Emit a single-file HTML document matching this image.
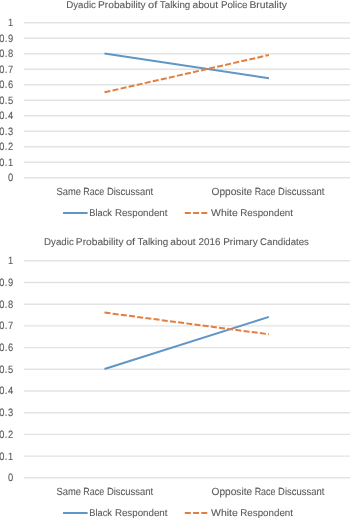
<!DOCTYPE html>
<html><head><meta charset="utf-8"><style>
html,body{margin:0;padding:0;background:#fff;width:350px;height:518px;overflow:hidden}
svg{display:block;will-change:transform}
text{font-family:"Liberation Sans",sans-serif;text-rendering:geometricPrecision;fill:#595959;stroke:#595959;stroke-width:0.08px}
</style></head><body>
<svg width="350" height="518" viewBox="0 0 350 518">
<rect width="350" height="518" fill="#fff"/>
<text x="66.20" y="7.60" textLength="29.76" lengthAdjust="spacingAndGlyphs" font-size="9.8">Dyadic</text>
<text x="98.06" y="7.60" textLength="47.66" lengthAdjust="spacingAndGlyphs" font-size="9.8">Probability</text>
<text x="148.13" y="7.60" textLength="9.25" lengthAdjust="spacingAndGlyphs" font-size="9.8">of</text>
<text x="159.78" y="7.60" textLength="30.55" lengthAdjust="spacingAndGlyphs" font-size="9.8">Talking</text>
<text x="192.47" y="7.60" textLength="25.61" lengthAdjust="spacingAndGlyphs" font-size="9.8">about</text>
<text x="220.90" y="7.60" textLength="26.64" lengthAdjust="spacingAndGlyphs" font-size="9.8">Police</text>
<text x="249.45" y="7.60" textLength="37.57" lengthAdjust="spacingAndGlyphs" font-size="9.8">Brutality</text>
<line x1="24" y1="177.80" x2="350" y2="177.80" stroke="#E3E3E3" stroke-width="1.4"/>
<line x1="24" y1="162.30" x2="350" y2="162.30" stroke="#E3E3E3" stroke-width="1.4"/>
<line x1="24" y1="146.80" x2="350" y2="146.80" stroke="#E3E3E3" stroke-width="1.4"/>
<line x1="24" y1="131.30" x2="350" y2="131.30" stroke="#E3E3E3" stroke-width="1.4"/>
<line x1="24" y1="115.80" x2="350" y2="115.80" stroke="#E3E3E3" stroke-width="1.4"/>
<line x1="24" y1="100.30" x2="350" y2="100.30" stroke="#E3E3E3" stroke-width="1.4"/>
<line x1="24" y1="84.80" x2="350" y2="84.80" stroke="#E3E3E3" stroke-width="1.4"/>
<line x1="24" y1="69.30" x2="350" y2="69.30" stroke="#E3E3E3" stroke-width="1.4"/>
<line x1="24" y1="53.80" x2="350" y2="53.80" stroke="#E3E3E3" stroke-width="1.4"/>
<line x1="24" y1="38.30" x2="350" y2="38.30" stroke="#E3E3E3" stroke-width="1.4"/>
<line x1="24" y1="22.80" x2="350" y2="22.80" stroke="#E3E3E3" stroke-width="1.4"/>
<text transform="scale(0.88,1)" x="9.06" y="181.20" font-size="10.6">0</text>
<text transform="scale(0.88,1)" x="-0.94 5.40 9.17" y="165.70" font-size="10.6">0.1</text>
<text transform="scale(0.88,1)" x="-0.94 5.40 9.18" y="150.20" font-size="10.6">0.2</text>
<text transform="scale(0.88,1)" x="-0.94 5.40 9.12" y="134.70" font-size="10.6">0.3</text>
<text transform="scale(0.88,1)" x="-0.94 5.40 8.96" y="119.20" font-size="10.6">0.4</text>
<text transform="scale(0.88,1)" x="-0.94 5.40 9.10" y="103.70" font-size="10.6">0.5</text>
<text transform="scale(0.88,1)" x="-0.94 5.40 9.12" y="88.20" font-size="10.6">0.6</text>
<text transform="scale(0.88,1)" x="-0.94 5.40 9.18" y="72.70" font-size="10.6">0.7</text>
<text transform="scale(0.88,1)" x="-0.94 5.40 9.11" y="57.20" font-size="10.6">0.8</text>
<text transform="scale(0.88,1)" x="-0.94 5.40 9.15" y="41.70" font-size="10.6">0.9</text>
<text transform="scale(0.88,1)" x="9.17" y="26.20" font-size="10.6">1</text>
<line x1="104.5" y1="53.50" x2="268.9" y2="78.30" stroke="#6096C6" stroke-width="2.0"/>
<line x1="104.5" y1="92.25" x2="268.9" y2="55.05" stroke="#E37F3E" stroke-width="2.0" stroke-dasharray="6 2.25"/>
<text x="56.47" y="195.00" textLength="24.54" lengthAdjust="spacingAndGlyphs" font-size="10.4">Same</text>
<text x="83.27" y="195.00" textLength="20.83" lengthAdjust="spacingAndGlyphs" font-size="10.4">Race</text>
<text x="106.92" y="195.00" textLength="46.25" lengthAdjust="spacingAndGlyphs" font-size="10.4">Discussant</text>
<text x="211.52" y="195.00" textLength="40.63" lengthAdjust="spacingAndGlyphs" font-size="10.4">Opposite</text>
<text x="254.67" y="195.00" textLength="20.83" lengthAdjust="spacingAndGlyphs" font-size="10.4">Race</text>
<text x="278.12" y="195.00" textLength="46.25" lengthAdjust="spacingAndGlyphs" font-size="10.4">Discussant</text>
<line x1="63" y1="213.0" x2="87.6" y2="213.0" stroke="#6096C6" stroke-width="2.0"/>
<text x="89.24" y="215.70" textLength="22.75" lengthAdjust="spacingAndGlyphs" font-size="9.8">Black</text>
<text x="114.90" y="215.70" textLength="52.57" lengthAdjust="spacingAndGlyphs" font-size="9.8">Respondent</text>
<line x1="184.8" y1="213.0" x2="207.4" y2="213.0" stroke="#E37F3E" stroke-width="2.0" stroke-dasharray="6 2.25"/>
<text x="211.05" y="215.70" textLength="26.81" lengthAdjust="spacingAndGlyphs" font-size="9.8">White</text>
<text x="240.30" y="215.70" textLength="52.67" lengthAdjust="spacingAndGlyphs" font-size="9.8">Respondent</text>
<text x="44.10" y="245.00" textLength="29.65" lengthAdjust="spacingAndGlyphs" font-size="9.8">Dyadic</text>
<text x="75.86" y="245.00" textLength="47.66" lengthAdjust="spacingAndGlyphs" font-size="9.8">Probability</text>
<text x="125.93" y="245.00" textLength="9.25" lengthAdjust="spacingAndGlyphs" font-size="9.8">of</text>
<text x="137.58" y="245.00" textLength="30.55" lengthAdjust="spacingAndGlyphs" font-size="9.8">Talking</text>
<text x="170.27" y="245.00" textLength="25.41" lengthAdjust="spacingAndGlyphs" font-size="9.8">about</text>
<text x="198.61" y="245.00" textLength="21.82" lengthAdjust="spacingAndGlyphs" font-size="9.8">2016</text>
<text x="223.18" y="245.00" textLength="34.54" lengthAdjust="spacingAndGlyphs" font-size="9.8">Primary</text>
<text x="260.11" y="245.00" textLength="48.84" lengthAdjust="spacingAndGlyphs" font-size="9.8">Candidates</text>
<line x1="24" y1="477.80" x2="350" y2="477.80" stroke="#E3E3E3" stroke-width="1.4"/>
<line x1="24" y1="456.10" x2="350" y2="456.10" stroke="#E3E3E3" stroke-width="1.4"/>
<line x1="24" y1="434.40" x2="350" y2="434.40" stroke="#E3E3E3" stroke-width="1.4"/>
<line x1="24" y1="412.70" x2="350" y2="412.70" stroke="#E3E3E3" stroke-width="1.4"/>
<line x1="24" y1="391.00" x2="350" y2="391.00" stroke="#E3E3E3" stroke-width="1.4"/>
<line x1="24" y1="369.30" x2="350" y2="369.30" stroke="#E3E3E3" stroke-width="1.4"/>
<line x1="24" y1="347.60" x2="350" y2="347.60" stroke="#E3E3E3" stroke-width="1.4"/>
<line x1="24" y1="325.90" x2="350" y2="325.90" stroke="#E3E3E3" stroke-width="1.4"/>
<line x1="24" y1="304.20" x2="350" y2="304.20" stroke="#E3E3E3" stroke-width="1.4"/>
<line x1="24" y1="282.50" x2="350" y2="282.50" stroke="#E3E3E3" stroke-width="1.4"/>
<line x1="24" y1="260.80" x2="350" y2="260.80" stroke="#E3E3E3" stroke-width="1.4"/>
<text transform="scale(0.88,1)" x="9.06" y="481.20" font-size="10.6">0</text>
<text transform="scale(0.88,1)" x="-0.94 5.40 9.17" y="459.50" font-size="10.6">0.1</text>
<text transform="scale(0.88,1)" x="-0.94 5.40 9.18" y="437.80" font-size="10.6">0.2</text>
<text transform="scale(0.88,1)" x="-0.94 5.40 9.12" y="416.10" font-size="10.6">0.3</text>
<text transform="scale(0.88,1)" x="-0.94 5.40 8.96" y="394.40" font-size="10.6">0.4</text>
<text transform="scale(0.88,1)" x="-0.94 5.40 9.10" y="372.70" font-size="10.6">0.5</text>
<text transform="scale(0.88,1)" x="-0.94 5.40 9.12" y="351.00" font-size="10.6">0.6</text>
<text transform="scale(0.88,1)" x="-0.94 5.40 9.18" y="329.30" font-size="10.6">0.7</text>
<text transform="scale(0.88,1)" x="-0.94 5.40 9.11" y="307.60" font-size="10.6">0.8</text>
<text transform="scale(0.88,1)" x="-0.94 5.40 9.15" y="285.90" font-size="10.6">0.9</text>
<text transform="scale(0.88,1)" x="9.17" y="264.20" font-size="10.6">1</text>
<line x1="104.5" y1="369.00" x2="268.9" y2="316.92" stroke="#6096C6" stroke-width="2.0"/>
<line x1="104.5" y1="312.58" x2="268.9" y2="334.28" stroke="#E37F3E" stroke-width="2.0" stroke-dasharray="6 2.25"/>
<text x="56.47" y="495.00" textLength="24.54" lengthAdjust="spacingAndGlyphs" font-size="10.4">Same</text>
<text x="83.27" y="495.00" textLength="20.83" lengthAdjust="spacingAndGlyphs" font-size="10.4">Race</text>
<text x="106.92" y="495.00" textLength="46.25" lengthAdjust="spacingAndGlyphs" font-size="10.4">Discussant</text>
<text x="211.52" y="495.00" textLength="40.63" lengthAdjust="spacingAndGlyphs" font-size="10.4">Opposite</text>
<text x="254.67" y="495.00" textLength="20.83" lengthAdjust="spacingAndGlyphs" font-size="10.4">Race</text>
<text x="278.12" y="495.00" textLength="46.25" lengthAdjust="spacingAndGlyphs" font-size="10.4">Discussant</text>
<line x1="63" y1="513.0" x2="87.6" y2="513.0" stroke="#6096C6" stroke-width="2.0"/>
<text x="89.24" y="515.70" textLength="22.75" lengthAdjust="spacingAndGlyphs" font-size="9.8">Black</text>
<text x="114.90" y="515.70" textLength="52.57" lengthAdjust="spacingAndGlyphs" font-size="9.8">Respondent</text>
<line x1="184.8" y1="513.0" x2="207.4" y2="513.0" stroke="#E37F3E" stroke-width="2.0" stroke-dasharray="6 2.25"/>
<text x="211.05" y="515.70" textLength="26.81" lengthAdjust="spacingAndGlyphs" font-size="9.8">White</text>
<text x="240.30" y="515.70" textLength="52.67" lengthAdjust="spacingAndGlyphs" font-size="9.8">Respondent</text>
</svg>
</body></html>
